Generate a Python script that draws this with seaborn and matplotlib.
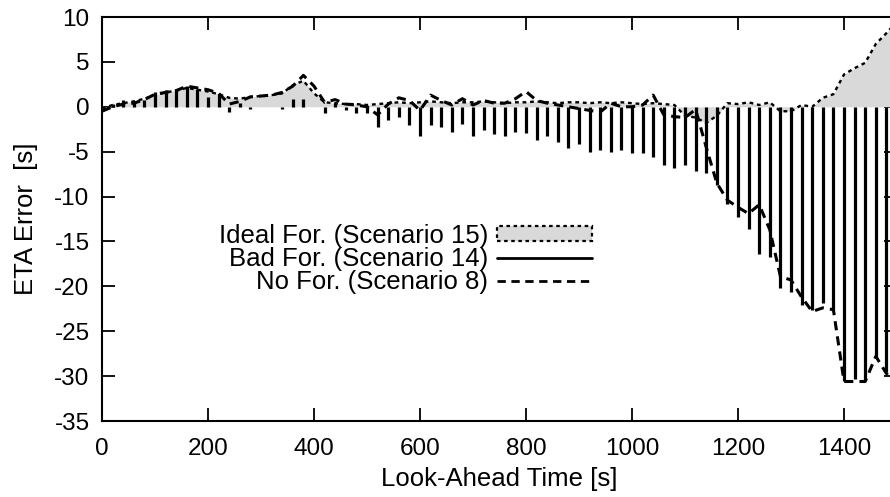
import numpy as np
import pandas as pd
import matplotlib
matplotlib.use("Agg")
import matplotlib.pyplot as plt
import seaborn as sns
from matplotlib.patches import Patch
from matplotlib.lines import Line2D

# Look-ahead time grid [s]
t = np.arange(0, 1520, 20)

# Bad forecast (Scenario 14) - drawn as impulses
bad = [-0.2, 0.3, 0.8, 0.6, 0.7, 1.7, 1.9, 1.9, 2.3, 2.0,
       1.1, 1.4, -0.6, 0.4, -0.2, 0.0, 0.0, -0.2, 0.9, 0.9,
       0.0, -0.7, 0.4, -0.4, -0.7, -0.7, -2.2, -1.5, -1.1, -2.0,
       -3.2, -2.0, -2.2, -2.8, -1.9, -3.2, -2.6, -3.0, -3.2, -2.8,
       -2.9, -3.7, -3.3, -3.9, -4.6, -4.1, -5.0, -4.8, -5.0, -4.8,
       -5.1, -5.1, -5.6, -6.5, -6.8, -6.5, -7.1, -7.4, -8.7, -10.8,
       -12.3, -13.6, -16.4, -16.7, -20.2, -20.6, -22.1, -22.6, -21.9, -22.6,
       -30.6, -30.3, -30.4, -28.0, -29.5, -30.0]

# No forecast (Scenario 8) - dashed line
nofor = [-0.5, 0.0, 0.3, 0.4, 0.8, 1.4, 1.6, 1.8, 2.3, 2.1,
         1.9, 1.5, 0.3, 0.6, 1.1, 1.2, 1.3, 1.6, 2.3, 3.5,
         2.3, 0.5, 0.8, 0.3, 0.2, 0.0, -0.9, 0.3, 1.0, 0.7,
         -0.4, 1.3, 0.7, 0.2, 0.9, 0.2, 0.7, 0.4, 0.4, 0.9,
         1.7, 0.7, 0.4, 0.2, 0.0, -0.2, -0.4, -0.6, 0.4, 0.0,
         0.0, 0.2, 1.3, -0.9, -1.1, -1.2, -0.3, -4.5, -8.5, -10.4,
         -11.2, -11.9, -10.9, -13.7, -18.9, -19.3, -21.2, -22.8, -22.4, -22.6,
         -30.6, -30.6, -30.6, -27.8, -29.7, -31.0]

# Ideal forecast (Scenario 15) - filled curve
ideal = [-0.2, 0.2, 0.4, 0.6, 0.9, 1.3, 1.6, 1.8, 2.1, 1.9,
         1.7, 1.4, 1.0, 0.9, 1.1, 1.2, 1.3, 1.5, 2.4, 2.9,
         1.5, 0.5, 0.4, 0.3, 0.3, 0.2, 0.3, 0.4, 0.5, 0.4,
         0.5, 0.6, 0.5, 0.4, 0.5, 0.5, 0.6, 0.5, 0.4, 0.5,
         0.5, 0.6, 0.5, 0.4, 0.5, 0.5, 0.4, 0.5, 0.4, 0.5,
         0.4, 0.3, 0.4, 0.3, 0.2, -1.0, -1.2, -1.8, -1.0, 0.4,
         0.3, 0.5, 0.2, 0.5, -0.5, -0.5, 0.2, 0.0, 1.0, 1.4,
         3.6, 4.3, 4.9, 7.0, 8.2, 9.5]

labels = ["Ideal For. (Scenario 15)", "Bad For. (Scenario 14)", "No For. (Scenario 8)"]
xticks = [0, 200, 400, 600, 800, 1000, 1200, 1400]
yticks = [-35, -30, -25, -20, -15, -10, -5, 0, 5, 10]

sns.set_theme(style="ticks")
plt.rcParams["font.family"] = ["Liberation Sans", "DejaVu Sans"]
plt.rcParams["axes.unicode_minus"] = False
plt.rcParams["text.color"] = "black"
plt.rcParams["axes.labelcolor"] = "black"

FS = 17.5
LFS = 18.5
GRAY = "#d9d9d9"

df = pd.DataFrame({"t": t, "bad": bad, "nofor": nofor, "ideal": ideal})

fig = plt.figure(figsize=(8.9, 4.97), dpi=100)
ax = fig.add_axes([102 / 890, 1 - 421 / 497, 795 / 890, 404 / 497])

ax.fill_between(df["t"], 0, df["ideal"], color=GRAY, lw=0, zorder=1)
sns.lineplot(data=df, x="t", y="ideal", ax=ax, color="black", lw=1.7, zorder=2)
ax.lines[-1].set_dashes([1.6, 1.6])

ax.vlines(df["t"], 0, df["bad"], color="black", lw=2.3, zorder=3)

sns.lineplot(data=df, x="t", y="nofor", ax=ax, color="black", lw=2.2, zorder=4)
ax.lines[-1].set_dashes([3.0, 2.0])

ax.set_xlim(0, 1500)
ax.set_ylim(-35, 10)
ax.set_xticks(xticks)
ax.set_yticks(yticks)
ax.set_xticklabels([str(v) for v in xticks])
ax.set_yticklabels([str(v) for v in yticks])
ax.tick_params(direction="in", length=9.5, width=1.3, top=True, right=True,
               labelsize=FS, colors="black")
ax.tick_params(axis="x", pad=12)
ax.tick_params(axis="y", pad=9)
for s in ax.spines.values():
    s.set_color("black")
    s.set_linewidth(1.5)
    s.set_visible(True)

ax.set_xlabel("Look-Ahead Time [s]", fontsize=LFS, color="black", labelpad=5)
ax.set_ylabel("ETA Error  [s]", fontsize=LFS, color="black", labelpad=12)

handles = [
    Patch(facecolor=GRAY, edgecolor="black", linestyle=(0, (1.6, 1.6)), lw=1.6),
    Line2D([], [], color="black", lw=2.0),
    Line2D([], [], color="black", lw=2.0, dashes=(3.0, 2.0)),
]
leg = ax.legend(handles, labels, loc="center right",
                bbox_to_anchor=(592 / 890, 1 - 259 / 497),
                bbox_transform=fig.transFigure, frameon=False,
                markerfirst=False, fontsize=LFS, handlelength=3.7,
                handletextpad=0.35, labelspacing=-0.02, borderpad=0,
                borderaxespad=0, handleheight=0.55)
for txt in leg.get_texts():
    txt.set_color("black")

fig.savefig("out.png", dpi=100)
